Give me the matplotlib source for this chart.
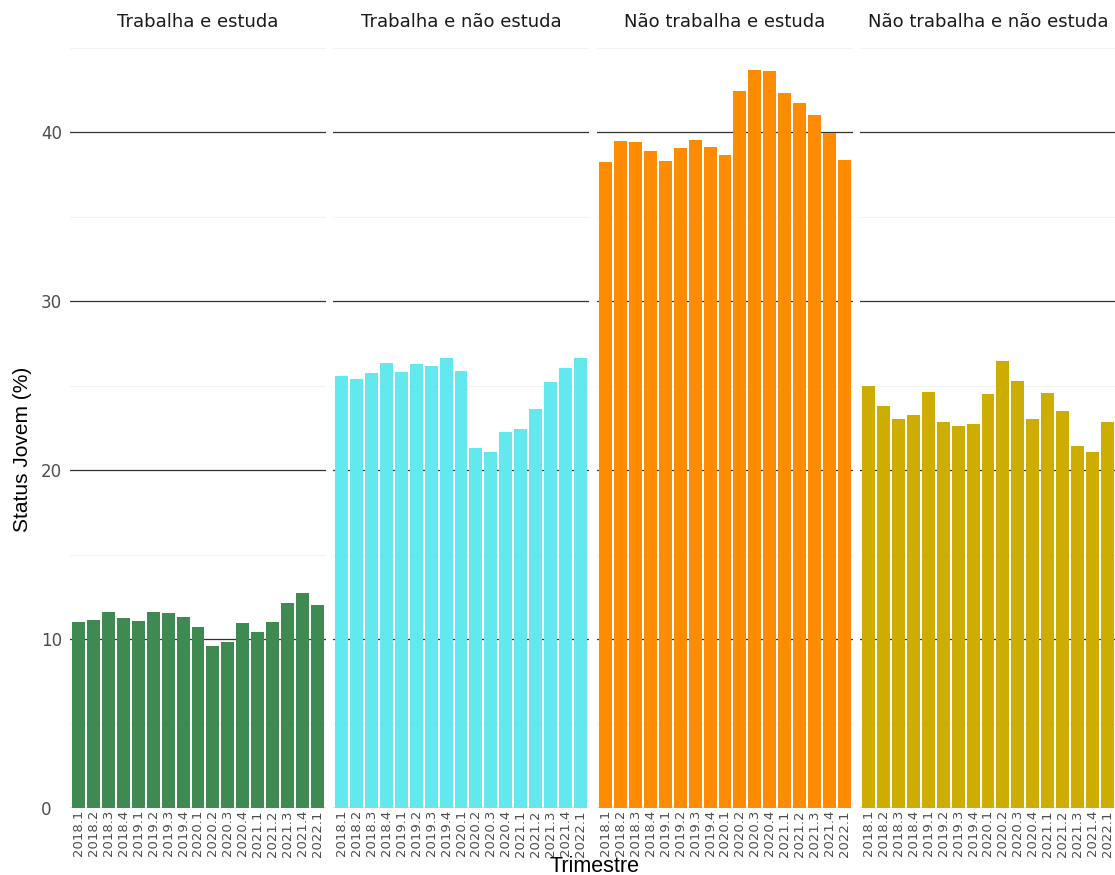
import matplotlib
matplotlib.use("Agg")
import matplotlib.pyplot as plt
import numpy as np

# quarters on the x axis
trimestres = ['2018.1', '2018.2', '2018.3', '2018.4', '2019.1', '2019.2', '2019.3', '2019.4',
              '2020.1', '2020.2', '2020.3', '2020.4', '2021.1', '2021.2', '2021.3', '2021.4', '2022.1']

# share of youths (%) per status
trabalha_estuda = [11.04, 11.14, 11.59, 11.27, 11.06, 11.59, 11.53, 11.31, 10.72,
                   9.60, 9.84, 10.93, 10.43, 11.04, 12.12, 12.75, 12.00]
trabalha_nao_estuda = [25.57, 25.40, 25.73, 26.34, 25.81, 26.26, 26.18, 26.66, 25.87,
                       21.33, 21.07, 22.27, 22.47, 23.60, 25.22, 26.08, 26.66]
nao_trabalha_estuda = [38.25, 39.49, 39.45, 38.92, 38.31, 39.08, 39.56, 39.12, 38.67,
                       42.43, 43.68, 43.62, 42.36, 41.72, 41.04, 39.95, 38.35]
nao_trabalha_nao_estuda = [25.00, 23.82, 23.03, 23.28, 24.66, 22.87, 22.59, 22.73, 24.54,
                           26.46, 25.26, 23.03, 24.58, 23.50, 21.43, 21.10, 22.88]

titulos = ['Trabalha e estuda', 'Trabalha e não estuda',
           'Não trabalha e estuda', 'Não trabalha e não estuda']
series = [trabalha_estuda, trabalha_nao_estuda, nao_trabalha_estuda, nao_trabalha_nao_estuda]
cores = ['#3e8a52', '#63e8ed', '#ff8c00', '#cdad00']

fig = plt.figure(figsize=(11.15, 8.75), dpi=100)

W = 1115.0
H = 875.0
painel_w = 256.0
x0s = [70, 333, 597, 860]
y_bot = 808.0
y_top = 48.0

x = np.arange(1, len(trimestres) + 1)

for i in range(4):
    ax = fig.add_axes([x0s[i] / W, 1 - y_bot / H, painel_w / W, (y_bot - y_top) / H])
    ax.set_xlim(0.4, len(trimestres) + 0.6)
    ax.set_ylim(0, 45.0)
    # grid lines
    for v in [5, 15, 25, 35, 45]:
        ax.axhline(v, color='#f2f2f2', lw=0.8, zorder=0)
    for v in [0, 10, 20, 30, 40]:
        ax.axhline(v, color='#333333', lw=0.9, zorder=0)
    ax.bar(x, series[i], width=0.87, color=cores[i], zorder=2)
    for s in ax.spines.values():
        s.set_visible(False)
    ax.set_xticks(x)
    ax.set_xticklabels(trimestres, rotation=90, fontsize=9.5, color='#4d4d4d')
    ax.tick_params(axis='x', length=0, pad=1.5)
    ax.tick_params(axis='y', length=0, pad=21)
    if i == 0:
        ax.set_yticks([0, 10, 20, 30, 40])
        ax.set_yticklabels(['0', '10', '20', '30', '40'], fontsize=12, color='#4d4d4d', ha='left')
    else:
        ax.set_yticks([])
    ax.set_title(titulos[i], fontsize=13, color='#1a1a1a', pad=15)

fig.text(594 / W, 1 - 866 / H, 'Trimestre', ha='center', va='center', fontsize=15.5,
         family='Liberation Sans')
fig.text(23 / W, 1 - 449 / H, 'Status Jovem (%)', ha='center', va='center', rotation=90,
         fontsize=15, family='Liberation Sans')

fig.savefig('out.png', dpi=100)
